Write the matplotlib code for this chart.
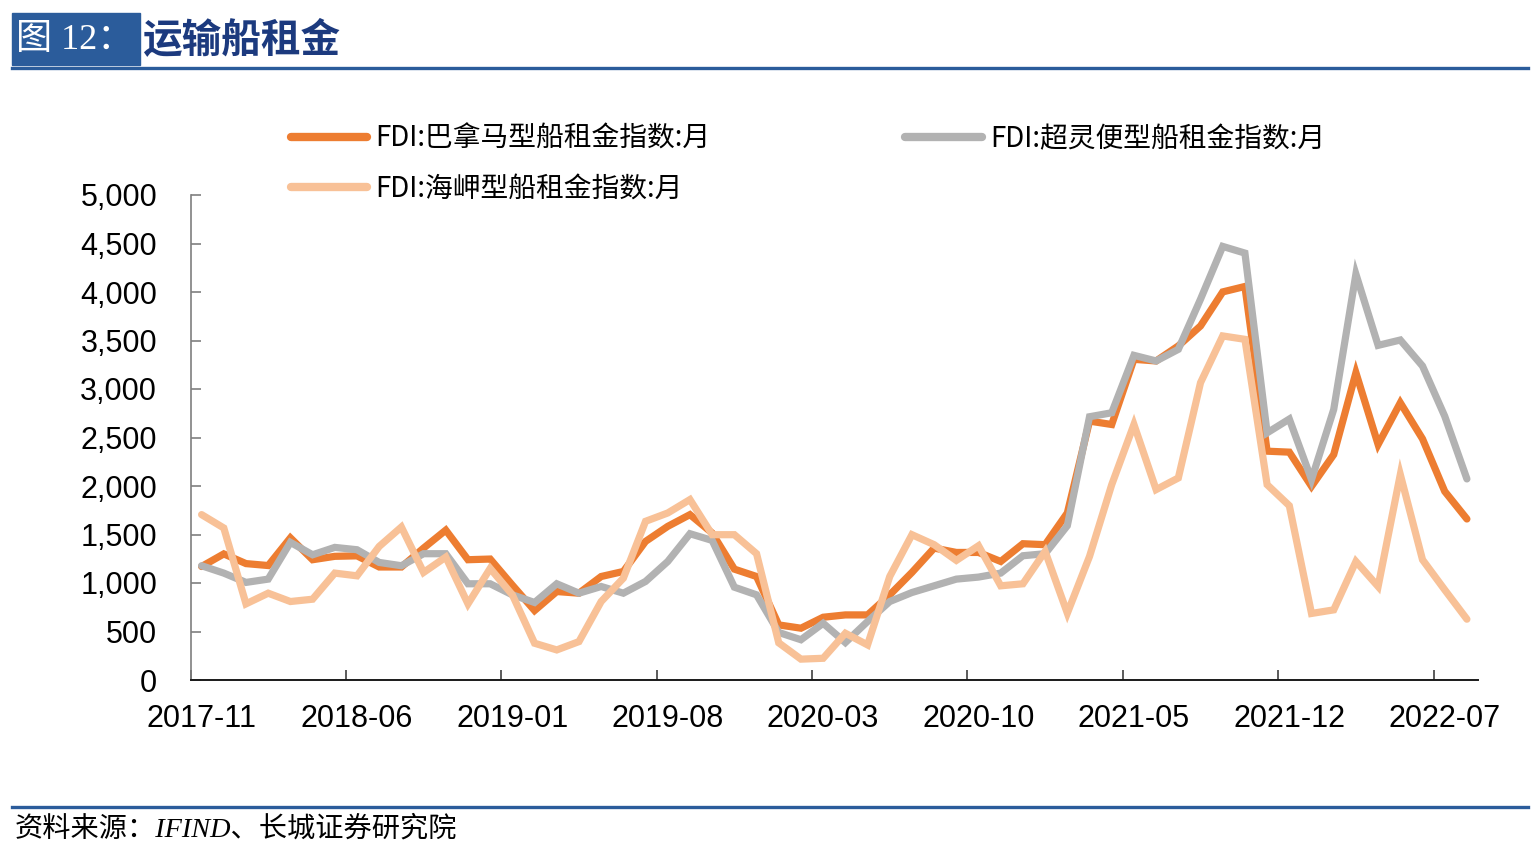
import matplotlib
matplotlib.use("Agg")
import matplotlib.pyplot as plt
from matplotlib.patches import Rectangle
from matplotlib.lines import Line2D
import pandas as pd
import numpy as np

# ---------------- data ----------------
months = [str(p) for p in pd.period_range("2017-11", "2022-08", freq="M")]

panamax = [1170, 1300, 1200, 1180, 1465, 1240, 1275, 1280, 1165, 1165, 1360, 1545, 1240, 1247,
           978, 716, 912, 895, 1067, 1119, 1429, 1584, 1705, 1515, 1143, 1067, 568, 534,
           647, 671, 671, 878, 1109, 1360, 1315, 1315, 1222, 1405, 1395, 1722,
           2669, 2634, 3306, 3289, 3444, 3650, 4001, 4057, 2359, 2349, 1997,
           2324, 3168, 2428, 2858, 2486, 1945, 1660]

supramax = [1178, 1102, 1006, 1040, 1419, 1291, 1367, 1343, 1212, 1178, 1302, 1302, 992, 992,
            878, 799, 992, 895, 964, 895, 1016, 1222, 1508, 1439, 957, 878, 490, 415,
            585, 386, 603, 809, 902, 971, 1040, 1061, 1102, 1281, 1302, 1591,
            2714, 2755, 3347, 3289, 3409, 3926, 4470, 4401, 2548, 2690, 2066,
            2789, 4184, 3450, 3505, 3237, 2720, 2073]

capesize = [1705, 1567, 785, 895, 809, 833, 1102, 1074, 1377, 1577, 1109, 1267, 785, 1150,
            878, 379, 310, 396, 809, 1050, 1636, 1722, 1860, 1498, 1498, 1302, 383, 215,
            224, 482, 362, 1067, 1498, 1395, 1233, 1384, 971, 992, 1326, 689,
            1274, 2014, 2634, 1963, 2083, 3065, 3547, 3512, 2014, 1797, 686,
            723, 1222, 964, 2118, 1240, 930, 627]

series_names = ["FDI:巴拿马型船租金指数:月", "FDI:超灵便型船租金指数:月", "FDI:海岬型船租金指数:月"]
label_step = 7
y_ticks = [0, 500, 1000, 1500, 2000, 2500, 3000, 3500, 4000, 4500, 5000]

# ---------------- style ----------------
W, H = 1535, 848
c_pan = "#ED7D31"
c_sup = "#B2B2B2"
c_cap = "#F8C197"
blue = "#2B5C9B"
navy = "#1C3A7E"
cjk = ["Noto Sans CJK SC", "DejaVu Sans"]
latin = ["Liberation Sans", "Noto Sans CJK SC"]

fig = plt.figure(figsize=(W / 100, H / 100), dpi=100)
ax = fig.add_axes([190.5 / W, 1 - 680 / H, (1478 - 190.5) / W, (680 - 195) / H])

x = np.arange(len(months))
lw = 5.2
l1, = ax.plot(x, panamax, color=c_pan, lw=lw, solid_joinstyle="miter", solid_capstyle="round", zorder=2)
l2, = ax.plot(x, supramax, color=c_sup, lw=lw, solid_joinstyle="miter", solid_capstyle="round", zorder=3)
l3, = ax.plot(x, capesize, color=c_cap, lw=lw, solid_joinstyle="miter", solid_capstyle="round", zorder=4)

ax.set_xlim(-0.5, len(months) - 0.5)
ax.set_ylim(0, 5000)

# y axis
ax.set_yticks(y_ticks)
ax.set_yticklabels([f"{v:,}" for v in y_ticks], fontfamily=latin, fontsize=22)
ax.tick_params(axis="y", direction="in", length=7, width=1.2, color="#7F7F7F", pad=24)

# x axis: tick marks at category boundaries, labels at category centres
bounds = np.arange(-0.5, len(months) - 1, label_step)
ax.set_xticks(bounds)
ax.set_xticklabels([])
ax.tick_params(axis="x", which="major", direction="in", length=7, width=1.2, color="#404040")
centers = np.arange(0, len(months), label_step)
ax.set_xticks(centers, minor=True)
ax.set_xticklabels([months[i] for i in centers], minor=True, fontfamily=latin, fontsize=22)
ax.tick_params(axis="x", which="minor", length=0, pad=17)

for s in ["top", "right"]:
    ax.spines[s].set_visible(False)
ax.spines["left"].set_color("#7F7F7F")
ax.spines["left"].set_linewidth(1.2)
ax.spines["bottom"].set_color("#1A1A1A")
ax.spines["bottom"].set_linewidth(1.4)

# legend
leg = fig.legend([l1, l3, l2], [series_names[0], series_names[2], series_names[1]],
                 ncol=2, loc="upper left", bbox_to_anchor=(291 / W, 1 - 124 / H),
                 frameon=False, prop={"family": cjk, "size": 20},
                 handlelength=2.75, handletextpad=0.3, columnspacing=7.0,
                 labelspacing=0.72, borderpad=0, borderaxespad=0)
for h in leg.legend_handles:
    h.set_linewidth(6)
    h.set_solid_capstyle("round")

# header
fig.patches.append(Rectangle((12 / W, 1 - 65 / H), 128 / W, 52 / H,
                             transform=fig.transFigure, color=blue, zorder=0))
fig.text(16 / W, 1 - 40 / H, "图 12：", color="white", fontsize=26,
         family=["Liberation Serif", "Noto Sans CJK SC"], va="center", ha="left")
fig.text(142 / W, 1 - 40 / H, "运输船租金", color=navy, fontsize=28.5,
         family=cjk, fontweight="bold", va="center", ha="left")
fig.add_artist(Line2D([12 / W, 1528 / W], [1 - 68 / H] * 2, color=blue, lw=2.4,
                      transform=fig.transFigure))
fig.add_artist(Line2D([12 / W, 1528 / W], [1 - 807 / H] * 2, color=blue, lw=2.4,
                      transform=fig.transFigure))
fig.text(15 / W, 1 - 829 / H, "资料来源：IFIND、长城证券研究院", color="black", fontsize=20.3,
         family=["Liberation Serif", "Noto Sans CJK SC"], style="italic", va="center", ha="left")

fig.savefig("out.png", dpi=100)
